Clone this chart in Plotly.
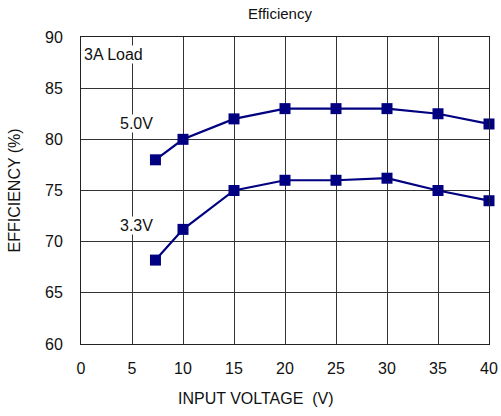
import plotly.graph_objects as go

input_voltage = [7.3, 10, 15, 20, 25, 30, 35, 40]
eff_5v0 = [78.0, 80.0, 82.0, 83.0, 83.0, 83.0, 82.5, 81.5]
eff_3v3 = [68.2, 71.2, 75.0, 76.0, 76.0, 76.2, 75.0, 74.0]
x_ticks = [0, 5, 10, 15, 20, 25, 30, 35, 40]
y_ticks = [60, 65, 70, 75, 80, 85, 90]

NAVY = "#000080"
FONT = "Liberation Sans, Arial, sans-serif"

fig = go.Figure()
for name, ys in [("5.0V", eff_5v0), ("3.3V", eff_3v3)]:
    fig.add_trace(go.Scatter(
        x=input_voltage, y=ys, mode="lines+markers", name=name,
        line=dict(color=NAVY, width=2.2),
        marker=dict(symbol="square", size=11, color=NAVY),
        showlegend=False, cliponaxis=False,
    ))

fig.update_layout(
    width=501, height=416,
    margin=dict(l=81, r=12, t=37, b=72),
    paper_bgcolor="white", plot_bgcolor="white",
    font=dict(family=FONT, size=16, color="#111"),
    xaxis=dict(range=[0, 40], tickvals=x_ticks, showgrid=True, automargin=False,
               gridcolor="#333", gridwidth=1, zeroline=False,
               showline=True, linecolor="#222", linewidth=1, mirror=True,
               ticks="", ticklabelstandoff=10, tickfont=dict(size=16)),
    yaxis=dict(range=[60, 90], tickvals=y_ticks, showgrid=True, automargin=False,
               gridcolor="#333", gridwidth=1, zeroline=False,
               showline=True, linecolor="#222", linewidth=1, mirror=True,
               ticks="", ticklabelstandoff=14, tickfont=dict(size=16)),
    annotations=[
        dict(text="Efficiency", xref="paper", yref="paper", x=(279.5 - 81) / 408, y=1,
             yshift=24, showarrow=False, font=dict(size=15), xanchor="center", yanchor="middle"),
        dict(text="INPUT VOLTAGE  (V)", xref="paper", yref="paper", x=(256 - 81) / 408, y=0,
             yshift=-54, showarrow=False, font=dict(size=16), xanchor="center", yanchor="middle"),
        dict(text="EFFICIENCY (%)", xref="paper", yref="paper", x=0, xshift=-67, y=0.5,
             textangle=-90, showarrow=False, font=dict(size=16), xanchor="center", yanchor="middle"),
        dict(text="3A Load", x=0.2, y=88.3, xanchor="left", yanchor="middle", showarrow=False,
             bgcolor="white", borderpad=0, font=dict(size=16)),
        dict(text="5.0V", x=5.4, y=81.5, xanchor="center", yanchor="middle", showarrow=False,
             bgcolor="white", borderpad=0, font=dict(size=16)),
        dict(text="3.3V", x=5.4, y=71.6, xanchor="center", yanchor="middle", showarrow=False,
             bgcolor="white", borderpad=0, font=dict(size=16)),
    ],
)

fig.write_html("out.html", config={"displayModeBar": False},
               post_script="document.body.style.margin='0';document.body.style.overflow='hidden';")
